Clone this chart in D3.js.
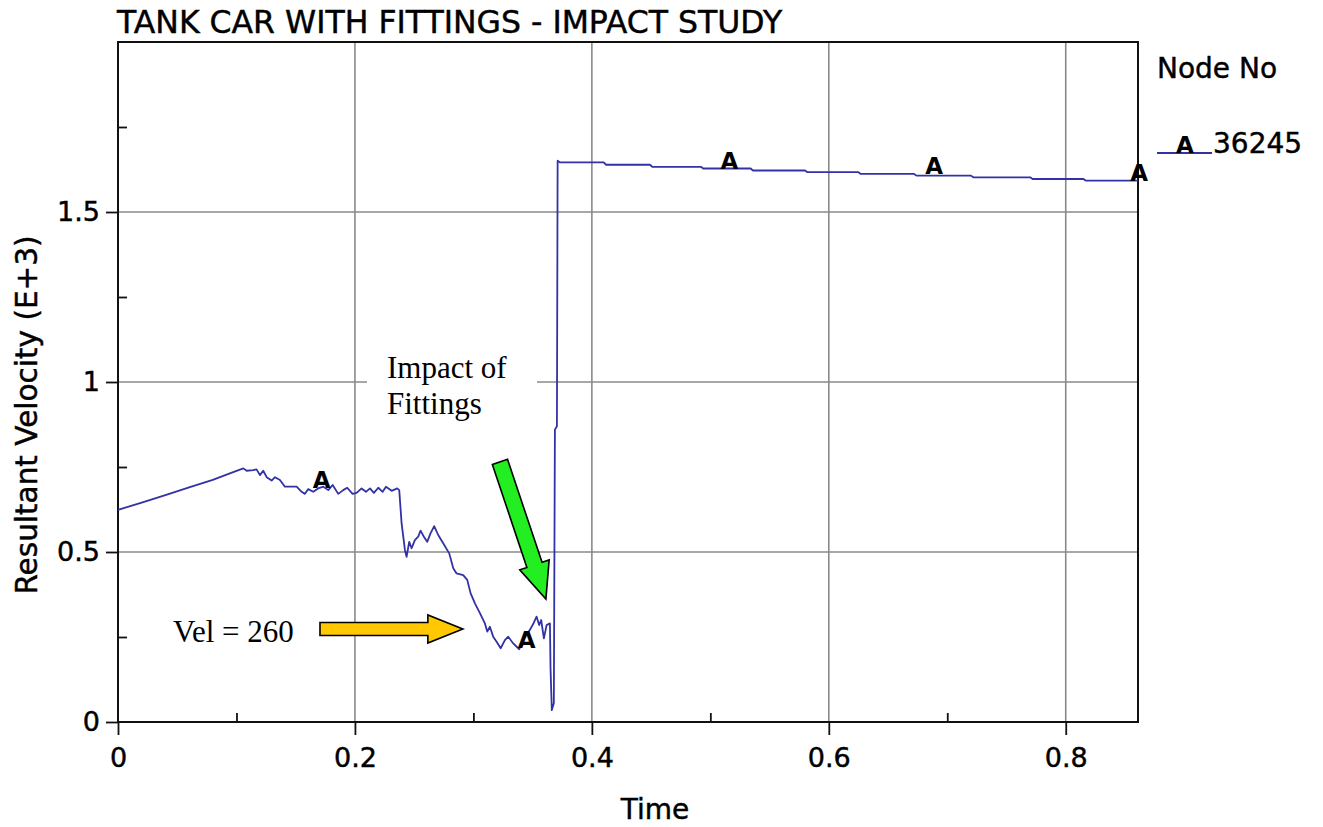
<!DOCTYPE html>
<html>
<head>
<meta charset="utf-8">
<script src="https://cdn.jsdelivr.net/npm/d3@7"></script>
<style>
  html, body { margin: 0; padding: 0; background: #fff; }
  svg { display: block; }
</style>
</head>
<body>
<svg id="chart" width="1323" height="827"></svg>
<script>
// ---------------- DATA ----------------
const chartTitle = "TANK CAR WITH FITTINGS - IMPACT STUDY";
const xAxisTitle = "Time";
const yAxisTitle = "Resultant Velocity (E+3)";
const legendTitle = "Node No";
const seriesName = "36245";
const seriesSymbol = "A";

const xMajorTicks = [0, 0.2, 0.4, 0.6, 0.8];
const xMinorTicks = [0.1, 0.3, 0.5, 0.7];
const yMajorTicks = [0, 0.5, 1, 1.5];
const yMinorTicks = [0.25, 0.75, 1.25, 1.75];
const xGrid = [0.2, 0.4, 0.6, 0.8];
const yGrid = [0.5, 1, 1.5];

// Time values
const time = [
  0, 0.02, 0.04, 0.06, 0.08, 0.095, 0.1058,
  0.1086, 0.1142, 0.117, 0.1198, 0.1226, 0.1255, 0.1297, 0.1325, 0.1367, 0.1409,
  0.1508, 0.155, 0.1578, 0.1606, 0.1648, 0.169, 0.1733, 0.1775, 0.1812, 0.1859,
  0.1901, 0.1935, 0.198, 0.2014, 0.2056, 0.2093, 0.2127, 0.216, 0.2197, 0.2234,
  0.2262, 0.231, 0.2357, 0.2374,
  0.2394, 0.2422, 0.2436, 0.2458, 0.2478, 0.2506, 0.2534, 0.2554, 0.2582, 0.261,
  0.2638, 0.2669, 0.2703, 0.2745, 0.2796, 0.283, 0.2858, 0.2914, 0.2948, 0.2976,
  0.3013, 0.3055, 0.3097, 0.3117, 0.3139, 0.3167, 0.3196, 0.323, 0.3266, 0.3294,
  0.3336, 0.3387, 0.342, 0.3477, 0.351, 0.3533, 0.3555, 0.3572, 0.3595, 0.3618,
  0.3646, 0.3651, 0.3662, 0.3679, 0.3688, 0.3705, 0.3711,
  0.373, 0.410, 0.412, 0.449, 0.451, 0.492, 0.494, 0.534, 0.536, 0.580, 0.582,
  0.625, 0.627, 0.672, 0.674, 0.720, 0.722, 0.770, 0.772, 0.815, 0.817, 0.861
];
// Resultant velocity (E+3)
const velocity = [
  0.624, 0.645, 0.667, 0.690, 0.712, 0.732, 0.746,
  0.739, 0.741, 0.743, 0.726, 0.739, 0.720, 0.710, 0.720, 0.712, 0.692,
  0.692, 0.677, 0.671, 0.685, 0.677, 0.687, 0.692, 0.682, 0.697, 0.671,
  0.682, 0.689, 0.671, 0.674, 0.687, 0.677, 0.687, 0.674, 0.689, 0.677,
  0.692, 0.680, 0.687, 0.682,
  0.584, 0.506, 0.486, 0.530, 0.511, 0.535, 0.545, 0.563, 0.545, 0.530,
  0.555, 0.576, 0.550, 0.526, 0.496, 0.452, 0.437, 0.432, 0.418, 0.379,
  0.349, 0.320, 0.290, 0.266, 0.280, 0.251, 0.236, 0.217, 0.241, 0.251,
  0.231, 0.214, 0.241, 0.271, 0.292, 0.310, 0.285, 0.300, 0.246, 0.285,
  0.290, 0.158, 0.035, 0.055, 0.860, 0.870, 1.651,
  1.646, 1.646, 1.639, 1.639, 1.633, 1.633, 1.628, 1.628, 1.622, 1.622, 1.617,
  1.617, 1.612, 1.612, 1.607, 1.607, 1.602, 1.602, 1.597, 1.597, 1.592, 1.592
];

// symbol markers along the curve
const markerTime = [0.172, 0.345, 0.516, 0.689, 0.862];
const markerVel  = [0.690, 0.222, 1.630, 1.615, 1.594];

// annotations
const noteImpact = ["Impact of", "Fittings"];
const noteVel = "Vel = 260";

// ---------------- LAYOUT ----------------
const svg = d3.select("#chart");
const L = 118, R = 1138, T = 42, B = 722;
const x = d3.scaleLinear().domain([0, 0.861]).range([L, R]);
const y = d3.scaleLinear().domain([0, 2]).range([B, T]);

const sans = "'DejaVu Sans', 'Liberation Sans', Arial, sans-serif";
const serif = "'Liberation Serif', 'Times New Roman', serif";
const lineColor = "#3232a6";
const gridColor = "#8a8a8a";
const heavy = sel => sel.attr("stroke", "#000").attr("stroke-width", 0.45);

// gridlines
svg.append("g").selectAll("line").data(xGrid).join("line")
  .attr("x1", d => x(d)).attr("x2", d => x(d))
  .attr("y1", T).attr("y2", B)
  .attr("stroke", gridColor).attr("stroke-width", 1.6);
svg.append("g").selectAll("line").data(yGrid).join("line")
  .attr("x1", L).attr("x2", R)
  .attr("y1", d => y(d)).attr("y2", d => y(d))
  .attr("stroke", gridColor).attr("stroke-width", 1.6);

// x axis (major ticks outside, minor inside)
const gx = svg.append("g").attr("transform", `translate(0,${B})`)
  .call(d3.axisBottom(x).tickValues(xMajorTicks).tickSize(13).tickPadding(13)
        .tickFormat(d => d === 0 ? "0" : d.toFixed(1)));
const gxm = svg.append("g").attr("transform", `translate(0,${B})`)
  .call(d3.axisBottom(x).tickValues(xMinorTicks).tickSize(-9).tickFormat(""));
// y axis
const gy = svg.append("g").attr("transform", `translate(${L},0)`)
  .call(d3.axisLeft(y).tickValues(yMajorTicks).tickSize(12).tickPadding(6)
        .tickFormat(d => String(d)));
const gym = svg.append("g").attr("transform", `translate(${L},0)`)
  .call(d3.axisLeft(y).tickValues(yMinorTicks).tickSize(-9).tickFormat(""));

[gx, gxm, gy, gym].forEach(g => {
  g.select(".domain").remove();
  g.selectAll(".tick line").attr("stroke", "#111").attr("stroke-width", 1.8);
  g.selectAll(".tick text").attr("fill", "#000")
    .style("font-family", sans).style("font-size", "27px").call(heavy);
});
gx.selectAll(".tick text").attr("dy", "0.72em");

// frame
svg.append("rect").attr("x", L).attr("y", T).attr("width", R - L).attr("height", B - T)
  .attr("fill", "none").attr("stroke", "#111").attr("stroke-width", 2);

// "Impact of Fittings" text box (white background hides the gridline)
const boxX0 = 367, boxX1 = 537;
svg.append("rect").attr("x", boxX0).attr("y", y(1) - 30)
  .attr("width", boxX1 - boxX0).attr("height", 70).attr("fill", "#fff");

// data line
const pts = time.map((t, i) => [t, velocity[i]]);
const line = d3.line().x(d => x(d[0])).y(d => y(d[1]));
svg.append("path").datum(pts).attr("d", line)
  .attr("fill", "none").attr("stroke", lineColor).attr("stroke-width", 1.8)
  .attr("stroke-linejoin", "round");

// symbol markers
svg.append("g").selectAll("text").data(markerTime).join("text")
  .attr("x", d => x(d)).attr("y", (d, i) => y(markerVel[i]) + 1)
  .attr("text-anchor", "middle")
  .style("font-family", sans).style("font-size", "23px").style("font-weight", "bold")
  .attr("fill", "#000")
  .text(seriesSymbol);

// title
svg.append("text").attr("x", L - 1).attr("y", 33)
  .style("font-family", sans).style("font-size", "31.5px").attr("fill", "#000")
  .call(heavy)
  .text(chartTitle);

// axis titles
svg.append("text").attr("x", 655).attr("y", 819).attr("text-anchor", "middle")
  .style("font-family", sans).style("font-size", "28px").attr("fill", "#000")
  .call(heavy)
  .text(xAxisTitle);
svg.append("text").attr("transform", "translate(37,415) rotate(-90)")
  .attr("text-anchor", "middle")
  .style("font-family", sans).style("font-size", "29.5px").attr("fill", "#000")
  .call(heavy)
  .text(yAxisTitle);

// legend
svg.append("text").attr("x", 1157).attr("y", 78)
  .style("font-family", sans).style("font-size", "28px").attr("fill", "#000")
  .call(heavy)
  .text(legendTitle);
svg.append("line").attr("x1", 1157).attr("x2", 1212).attr("y1", 153).attr("y2", 153)
  .attr("stroke", lineColor).attr("stroke-width", 1.8);
svg.append("text").attr("x", 1185).attr("y", 153).attr("text-anchor", "middle")
  .style("font-family", sans).style("font-size", "23px").style("font-weight", "bold")
  .attr("fill", "#000")
  .text(seriesSymbol);
svg.append("text").attr("x", 1213).attr("y", 153)
  .style("font-family", sans).style("font-size", "28px").attr("fill", "#000")
  .call(heavy)
  .text(seriesName);

// annotations text
svg.append("g").selectAll("text").data(noteImpact).join("text")
  .attr("x", 387).attr("y", (d, i) => 378 + i * 36)
  .style("font-family", serif).style("font-size", "31px").attr("fill", "#000")
  .text(d => d);
svg.append("text").attr("x", 173).attr("y", 642)
  .style("font-family", serif).style("font-size", "31px").attr("fill", "#000")
  .text(noteVel);

// arrow helper: tail point, tip point (data coords), shaft width, head width, head length (px)
function arrow(t0, v0, t1, v1, sw, hw, hl, fill) {
  const x0 = x(t0), y0 = y(v0), x1 = x(t1), y1 = y(v1);
  const dx = x1 - x0, dy = y1 - y0, len = Math.hypot(dx, dy);
  const ux = dx / len, uy = dy / len, nx = -uy, ny = ux;
  const bx = x1 - ux * hl, by = y1 - uy * hl;
  const p = [
    [x0 + nx * sw / 2, y0 + ny * sw / 2],
    [bx + nx * sw / 2, by + ny * sw / 2],
    [bx + nx * hw / 2, by + ny * hw / 2],
    [x1, y1],
    [bx - nx * hw / 2, by - ny * hw / 2],
    [bx - nx * sw / 2, by - ny * sw / 2],
    [x0 - nx * sw / 2, y0 - ny * sw / 2]
  ];
  svg.append("polygon").attr("points", p.map(q => q.join(",")).join(" "))
    .attr("fill", fill).attr("stroke", "#000").attr("stroke-width", 1.6)
    .attr("stroke-linejoin", "miter");
}
// yellow arrow pointing to Vel = 260
arrow(0.1705, 0.2735, 0.2911, 0.2735, 13, 28, 35, "#ffc800");
// green arrow pointing to the impact
arrow(0.3224, 0.765, 0.3612, 0.3618, 16, 31, 36, "#22ee22");
</script>
</body>
</html>
